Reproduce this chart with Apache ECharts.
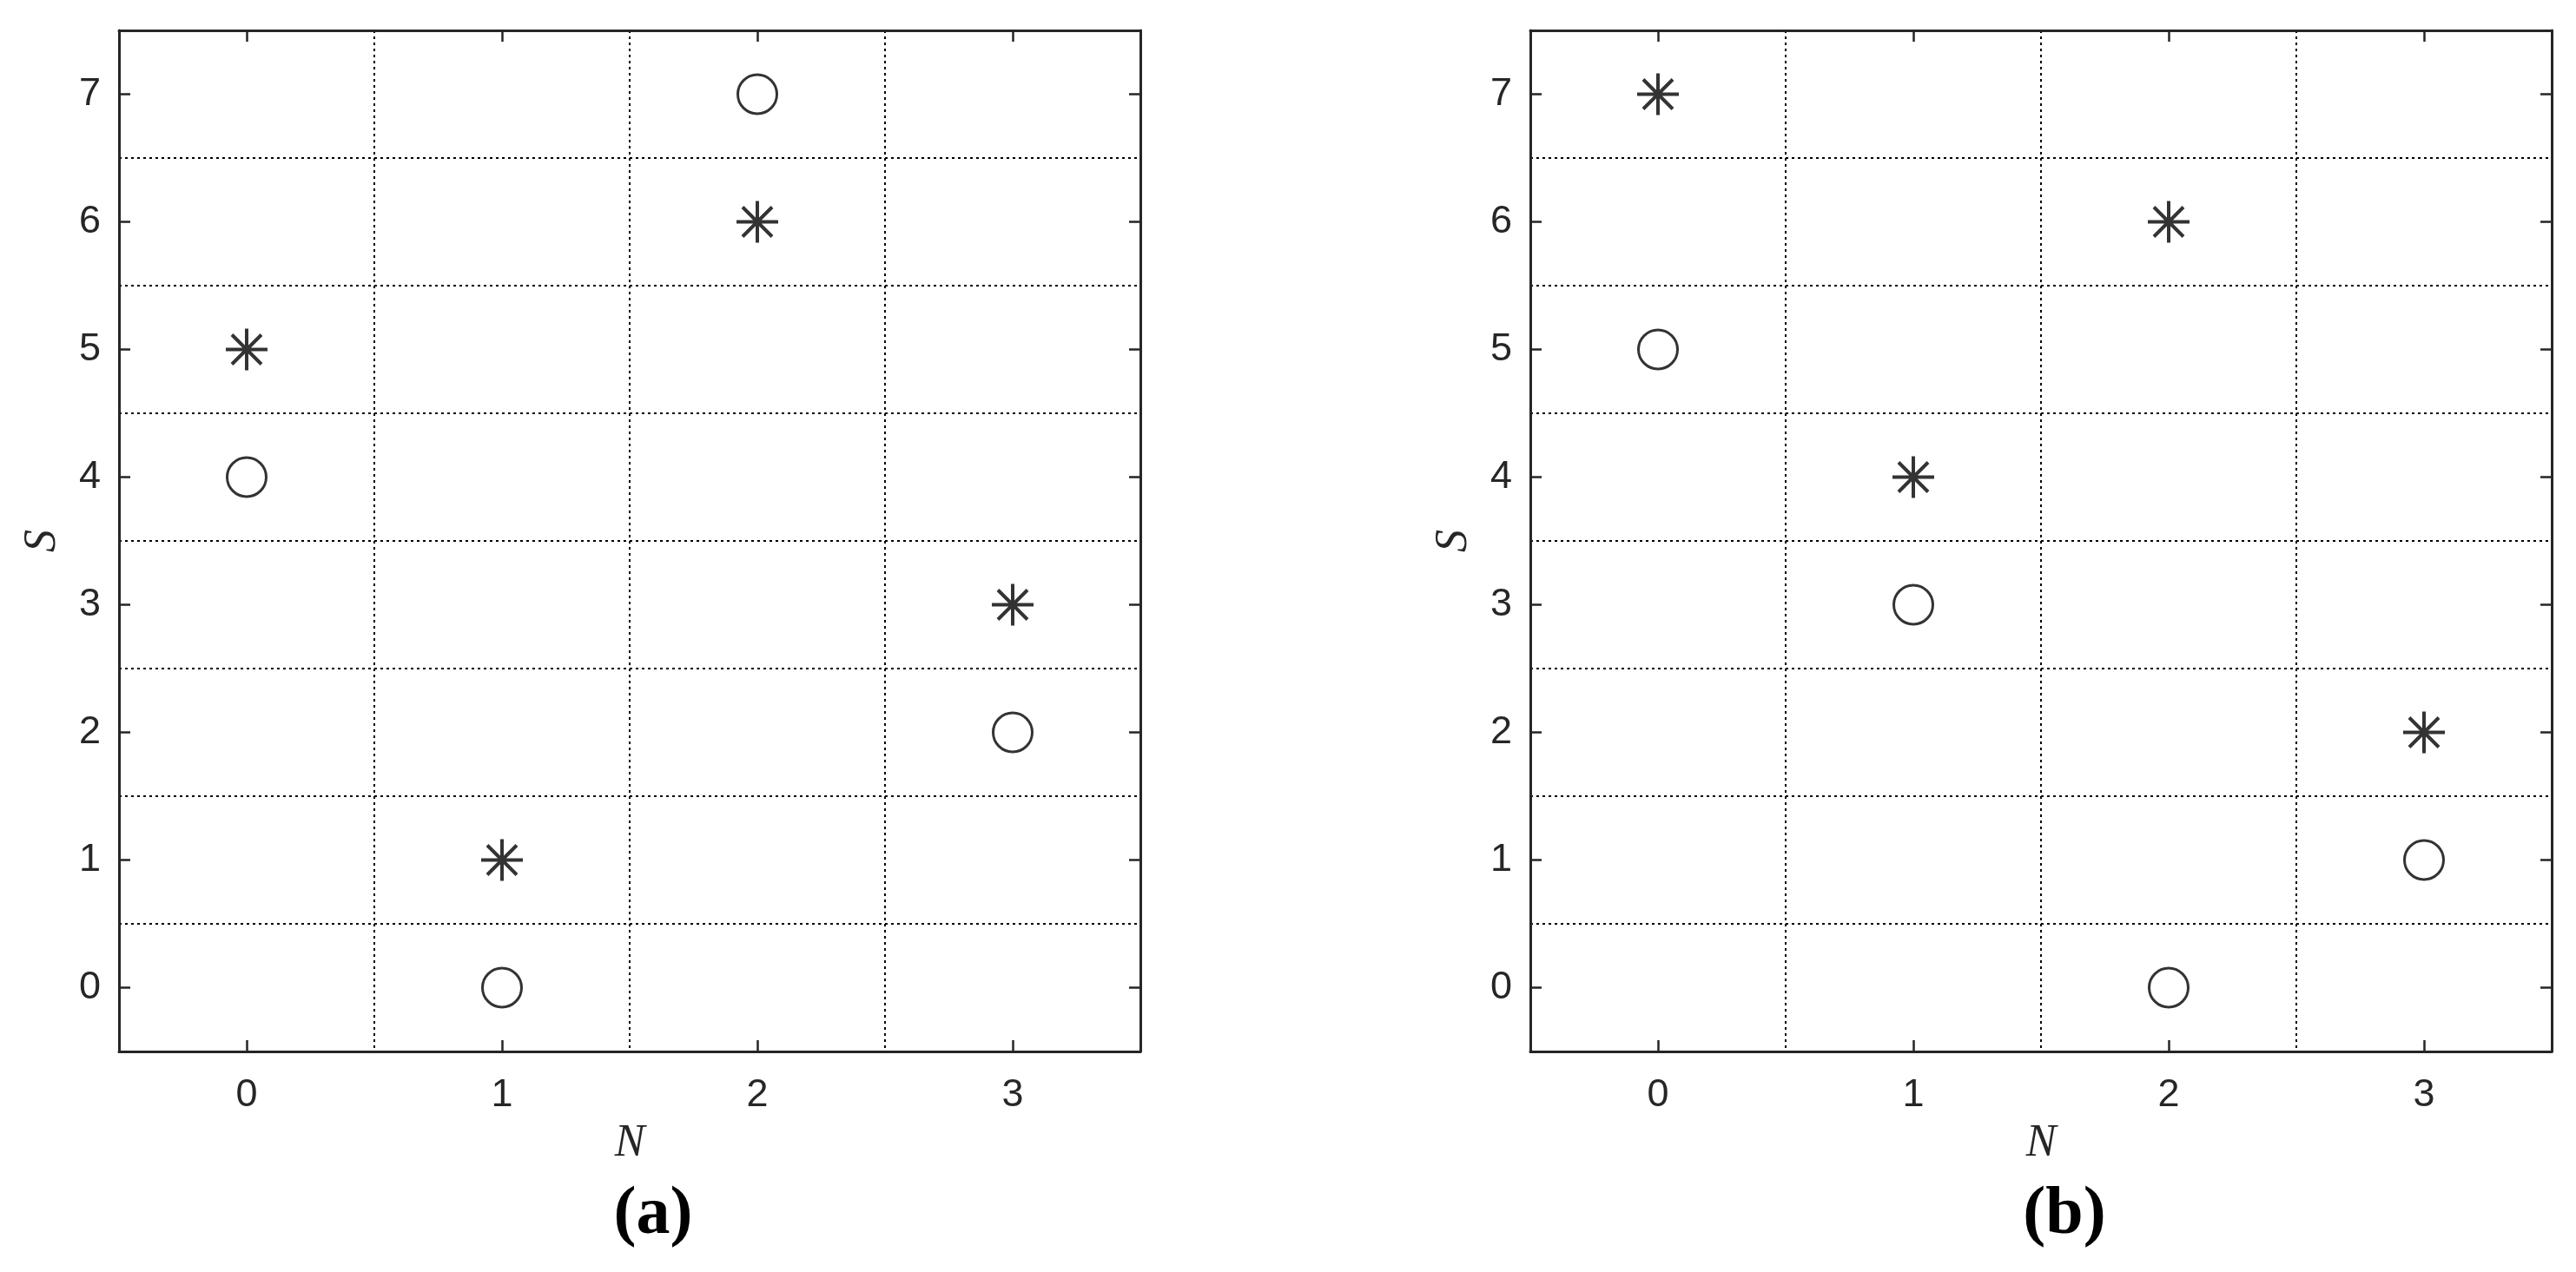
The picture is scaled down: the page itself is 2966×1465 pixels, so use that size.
<!DOCTYPE html>
<html>
<head>
<meta charset="utf-8">
<title>N-S scatter</title>
<script src="https://cdn.jsdelivr.net/npm/echarts@6/dist/echarts.min.js"></script>
<style>
  html, body { margin: 0; padding: 0; background: #fff; }
  #chart { width: 2966px; height: 1465px; }
</style>
</head>
<body>
<div id="chart"></div>
<script>
// tick values on both axes
var nTicks = [0, 1, 2, 3];
var sTicks = [0, 1, 2, 3, 4, 5, 6, 7];

// panel (a)
var circlesA = [[0, 4], [1, 0], [2, 7], [3, 2]];
var starsA = [[0, 5], [1, 1], [2, 6], [3, 3]];
// panel (b)
var circlesB = [[0, 5], [1, 3], [2, 0], [3, 1]];
var starsB = [[0, 7], [1, 4], [2, 6], [3, 2]];

var panelLabels = ['(a)', '(b)'];

var axisColor = '#262626';
var labelFont = 'Liberation Sans, Arial, sans-serif';
var mathFont = 'Liberation Serif, Times New Roman, serif';

// asterisk built from 4 filled bars (same winding so overlaps stay filled)
var asterisk = 'path://M22 0H26V48H22Z M0 22H48V26H0Z ' +
  'M8.41 5.59L42.41 39.59L39.59 42.41L5.59 8.41Z ' +
  'M42.41 8.41L8.41 42.41L5.59 39.59L39.59 5.59Z';

var grids = [
  { left: 137, top: 35, width: 1176, height: 1176 },
  { left: 1762, top: 35, width: 1176, height: 1176 }
];

var gridLine = { show: true, lineStyle: { color: '#000', width: 2, type: [3, 4] } };
var frame = { show: true, onZero: false, lineStyle: { color: axisColor, width: 3 } };

function tickAxis(gi, pos, range, ticks, withLabel, name) {
  var isX = pos === 'bottom' || pos === 'top';
  var ax = {
    type: 'value',
    gridIndex: gi,
    position: pos,
    min: range[0],
    max: range[1],
    axisLine: frame,
    axisTick: { show: true, inside: true, length: 13, customValues: ticks,
      lineStyle: { color: axisColor, width: 2.5 } },
    axisLabel: { show: withLabel, customValues: ticks, color: axisColor,
      fontFamily: labelFont, fontSize: 45, margin: isX ? 28 : 21 },
    splitLine: { show: false }
  };
  if (name) {
    ax.name = name;
    ax.nameLocation = 'middle';
    ax.nameGap = isX ? 80 : 62;
    ax.nameTextStyle = { fontFamily: mathFont, fontStyle: 'italic', fontSize: 52, color: axisColor };
  }
  return ax;
}

function gridAxis(gi, pos, range) {
  return {
    type: 'value',
    gridIndex: gi,
    position: pos,
    min: range[0],
    max: range[1],
    interval: 1,
    axisLine: { show: false },
    axisTick: { show: false },
    axisLabel: { show: false },
    splitLine: gridLine
  };
}

var xAxes = [];
var yAxes = [];
var nRange = [-0.5, 3.5];
var sRange = [-0.5, 7.5];
for (var g = 0; g < 2; g++) {
  xAxes.push(tickAxis(g, 'bottom', nRange, nTicks, true, 'N'));
  xAxes.push(tickAxis(g, 'top', nRange, nTicks, false));
  xAxes.push(gridAxis(g, 'bottom', nRange));
  yAxes.push(tickAxis(g, 'left', sRange, sTicks, true, 'S'));
  yAxes.push(tickAxis(g, 'right', sRange, sTicks, false));
  yAxes.push(gridAxis(g, 'left', sRange));
}

function circleSeries(data, gi) {
  return {
    type: 'scatter',
    xAxisIndex: gi * 3,
    yAxisIndex: gi * 3,
    data: data,
    symbol: 'circle',
    symbolSize: 45,
    itemStyle: { color: 'rgba(0,0,0,0)', borderColor: '#000', borderWidth: 3 },
    z: 5
  };
}

function starSeries(data, gi) {
  return {
    type: 'scatter',
    xAxisIndex: gi * 3,
    yAxisIndex: gi * 3,
    data: data,
    symbol: asterisk,
    symbolSize: 48,
    itemStyle: { color: '#000' },
    z: 5
  };
}

var option = {
  backgroundColor: '#fff',
  animation: false,
  grid: grids,
  xAxis: xAxes,
  yAxis: yAxes,
  series: [
    circleSeries(circlesA, 0),
    starSeries(starsA, 0),
    circleSeries(circlesB, 1),
    starSeries(starsB, 1)
  ],
  graphic: panelLabels.map(function (t, i) {
    return {
      type: 'text',
      x: i === 0 ? 752 : 2377,
      y: 1400,
      style: {
        text: t,
        font: 'bold 78px ' + mathFont,
        fill: '#000',
        align: 'center',
        verticalAlign: 'middle'
      }
    };
  })
};

var myChart = echarts.init(document.getElementById('chart'));
myChart.setOption(option);
</script>
</body>
</html>
